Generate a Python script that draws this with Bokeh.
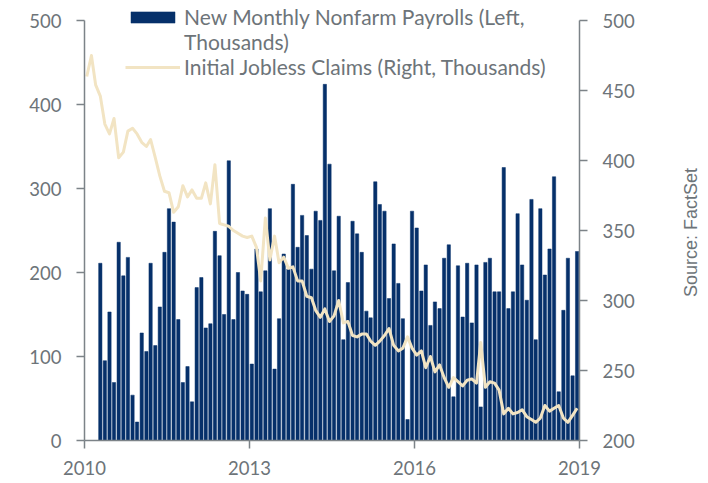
import math
import pandas as pd
from bokeh.plotting import figure
from bokeh.layouts import row
from bokeh.models import (Range1d, LinearAxis, FixedTicker, Legend, LegendItem,
                          ColumnDataSource, DatetimeTickFormatter, Label)
from bokeh.embed import file_html
from bokeh.resources import INLINE

# ---- data ----
start_month = "2010-01-01"
payrolls = [0, 0, 0, 211, 95, 153, 69, 236, 196, 218, 54, 22,
            128, 106, 211, 113, 159, 224, 276, 260, 144, 69, 88, 46,
            182, 194, 134, 139, 249, 220, 150, 333, 144, 200, 178, 174,
            91, 228, 177, 202, 276, 85, 145, 222, 204, 305, 230, 268,
            244, 204, 273, 262, 424, 329, 202, 267, 120, 188, 261, 246,
            224, 154, 146, 308, 281, 273, 169, 234, 187, 145, 25, 273,
            253, 178, 209, 137, 165, 157, 217, 233, 52, 208, 147, 211,
            140, 209, 40, 212, 217, 177, 177, 325, 157, 177, 270, 209,
            167, 287, 120, 276, 197, 228, 314, 58, 155, 217, 77, 225]
claims = [460, 475, 454, 446, 426, 419, 430, 402, 406, 421, 423, 419,
          413, 410, 415, 402, 389, 378, 377, 363, 367, 382, 374, 379,
          373, 373, 384, 369, 397, 355, 354, 353, 350, 348, 346, 345,
          346, 338, 314, 359, 329, 346, 327, 331, 323, 324, 314, 314,
          303, 302, 293, 288, 294, 285, 289, 300, 284, 285, 275, 274,
          276, 276, 271, 268, 271, 275, 280, 268, 264, 266, 274, 266,
          261, 264, 252, 260, 249, 254, 245, 238, 245, 242, 239, 243,
          244, 241, 270, 238, 242, 241, 236, 219, 223, 219, 220, 222,
          217, 215, 213, 216, 225, 221, 223, 225, 216, 213, 218, 223]
year_ticks = ["2010-01-01", "2013-01-01", "2016-01-01", "2019-01-01"]
left_ticks = [0, 100, 200, 300, 400, 500]
right_ticks = [200, 250, 300, 350, 400, 450, 500]
source_text = "Source: FactSet"

months = pd.date_range(start_month, periods=len(payrolls), freq="MS") + pd.Timedelta(days=15)
src = ColumnDataSource(dict(month=months, payrolls=payrolls, claims=claims))

NAVY = "#06306a"
BEIGE = "#f2e4c3"
GRAY = "#7c8388"
TXT = "#6d7479"
FONT = "Lato"

# frame reaches the top edge so the legend is not clipped; axes are bounded
FRAME_H, PLOT_H = 440.0, 420.0
left_top = 500 * FRAME_H / PLOT_H
right_top = 200 + 300 * FRAME_H / PLOT_H

p = figure(width=640, height=483, x_axis_type="datetime",
           x_range=Range1d(pd.Timestamp("2010-01-01"), pd.Timestamp("2019-01-01")),
           y_range=Range1d(0, left_top),
           output_backend="svg", toolbar_location=None,
           min_border_left=84, min_border_right=61,
           min_border_top=0, min_border_bottom=43)
p.extra_y_ranges = {"claims": Range1d(200, right_top)}
p.outline_line_color = None
p.grid.visible = False
p.background_fill_color = "white"

bar_w = 0.72 * 30.44 * 86400000
bars = p.vbar(x="month", top="payrolls", width=bar_w, source=src,
              fill_color=NAVY, line_color=NAVY, line_width=0.5)
line = p.line(x="month", y="claims", source=src, y_range_name="claims",
              line_color=BEIGE, line_width=3, line_join="round")
dummy = p.line(x=[], y=[], line_alpha=0)

def style(ax):
    ax.axis_line_color = GRAY
    ax.axis_line_width = 1.5
    ax.major_tick_line_color = GRAY
    ax.major_tick_line_width = 1.5
    ax.major_tick_out = 8
    ax.major_tick_in = 0
    ax.minor_tick_line_color = None
    ax.major_label_text_color = TXT
    ax.major_label_text_font = FONT
    ax.major_label_text_font_size = "18.5px"

xa = p.xaxis[0]
style(xa)
xa.ticker = FixedTicker(ticks=[pd.Timestamp(t).value / 1e6 for t in year_ticks])
xa.formatter = DatetimeTickFormatter(years="%Y", months="%Y", days="%Y", hours="%Y")
xa.major_label_standoff = 12

ya = p.yaxis[0]
style(ya)
ya.ticker = FixedTicker(ticks=left_ticks)
ya.bounds = (0, 500)
ya.major_label_standoff = 15

ra = LinearAxis(y_range_name="claims", ticker=FixedTicker(ticks=right_ticks))
style(ra)
ra.bounds = (200, 500)
ra.major_label_standoff = 15
p.add_layout(ra, "right")

legend = Legend(items=[
    LegendItem(label="New Monthly Nonfarm Payrolls (Left,", renderers=[bars]),
    LegendItem(label="Thousands)", renderers=[dummy]),
    LegendItem(label="Initial Jobless Claims (Right, Thousands)", renderers=[line]),
], location=(41, 361))
legend.background_fill_alpha = 0
legend.border_line_color = None
legend.padding = 0
legend.margin = 0
legend.spacing = 0
legend.glyph_width = 55
legend.glyph_height = 14
legend.label_standoff = 4
legend.label_text_font = FONT
legend.label_text_font_size = "21px"
legend.label_text_color = TXT
legend.label_height = 22
p.add_layout(legend, "center")

# narrow side panel carrying the rotated source note
s = figure(width=68, height=483, x_range=Range1d(0, 1), y_range=Range1d(0, 1),
           output_backend="svg", toolbar_location=None,
           x_axis_location=None, y_axis_location=None,
           min_border_left=0, min_border_right=0, min_border_top=0, min_border_bottom=0)
s.outline_line_color = None
s.grid.visible = False
s.add_layout(Label(x=50, y=208, x_units="screen", y_units="screen",
                   text=source_text, angle=math.pi / 2,
                   text_align="center", text_baseline="middle",
                   text_font="Liberation Sans", text_font_size="18px",
                   text_color=TXT))

layout = row(p, s, spacing=0)
open("out.html", "w").write(file_html(layout, INLINE))
